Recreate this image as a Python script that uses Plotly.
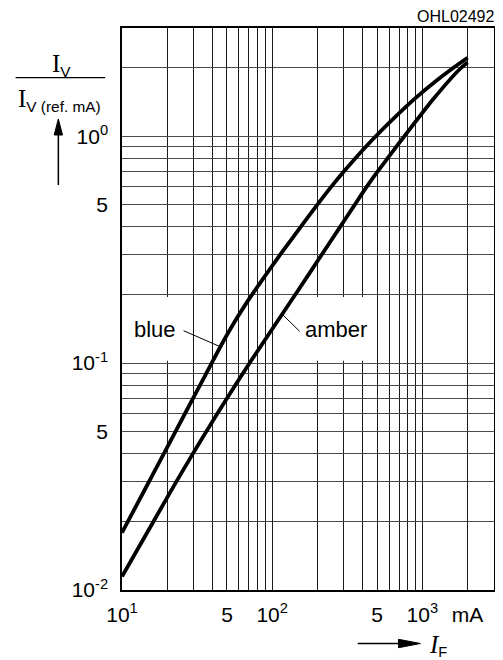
import plotly.graph_objects as go
import math

# ---- data ----
blue_if = [10, 15, 19, 22.6, 29.7, 36, 47, 56, 68, 74, 99, 114, 158, 203, 250, 300, 367, 428, 495, 627, 895, 1250, 1603, 2000]
blue_iv = [0.0179, 0.0297, 0.0399, 0.0496, 0.0699, 0.0888, 0.1239, 0.1515, 0.1857, 0.202, 0.266, 0.303, 0.406, 0.506, 0.604, 0.699, 0.815, 0.911, 1.008, 1.178, 1.469, 1.766, 2.0, 2.218]

amber_if = [10, 16.1, 22.7, 29.4, 36.4, 49.3, 72, 146, 213, 285, 349, 421, 504, 589, 668, 750, 1183, 1778, 2000]
amber_iv = [0.01146, 0.0199, 0.0296, 0.0395, 0.0499, 0.0690, 0.1019, 0.2052, 0.2994, 0.4006, 0.4906, 0.5918, 0.6995, 0.8024, 0.8964, 0.9902, 1.4586, 1.979, 2.112]

x_tickvals = [10, 50, 100, 500, 1000, 2000]
x_ticktext = ["10<sup>1</sup>", "5", "10<sup>2</sup>", "5", "10<sup>3</sup>", "mA"]
y_tickvals = [0.01, 0.05, 0.1, 0.5, 1]
y_ticktext = ["10<sup>-2</sup>", "5", "10<sup>-1</sup>", "5", "10<sup>0</sup>"]

# page body has an 8px default margin; compensate so the plot lands where intended
OFF = 8
W, H = 503 - OFF, 660 - OFF
L, R, T, B = 122 - OFF, 7, 28 - OFF, 70
PW, PH = W - L - R, H - T - B


def px(x):
    """page pixel x -> paper coordinate"""
    return (x - OFF - L) / PW


def py(y):
    """page pixel y -> paper coordinate"""
    return (H - B - (y - OFF)) / PH


x_grid = [m * 10 ** d for d in (1, 2, 3) for m in range(1, 10) if m * 10 ** d <= 3000]
y_grid = [m * 10 ** d for d in (-2, -1, 0) for m in range(1, 10) if m * 10 ** d <= 3]

SANS = "Liberation Sans, Arial, sans-serif"
SERIF = "Liberation Serif, Times New Roman, serif"
XGRID = "#1a1a1a"
YGRID = "#4a4a4a"

fig = go.Figure()
for xs, ys in ((blue_if, blue_iv), (amber_if, amber_iv)):
    fig.add_trace(go.Scatter(x=xs, y=ys, mode="lines",
                             line=dict(color="black", width=3.8, shape="spline", smoothing=0.6),
                             showlegend=False, hoverinfo="skip"))

axis_common = dict(
    showline=True, linecolor="black", linewidth=1.5, mirror=True,
    showgrid=True, gridwidth=1,
    ticks="", zeroline=False,
    tickfont=dict(family=SANS, size=21, color="black"),
)
fig.update_xaxes(type="log", range=[1, math.log10(3000)],
                 tickmode="array", tickvals=x_tickvals, ticktext=x_ticktext, gridcolor=XGRID,
                 minor=dict(tickvals=x_grid, showgrid=True, gridcolor=XGRID, gridwidth=1, ticks=""),
                 ticklabelstandoff=5, **axis_common)
fig.update_yaxes(type="log", range=[-2, math.log10(3)],
                 tickmode="array", tickvals=y_tickvals, ticktext=y_ticktext, gridcolor=YGRID,
                 minor=dict(tickvals=y_grid, showgrid=True, gridcolor=YGRID, gridwidth=1.2, ticks=""),
                 ticklabelstandoff=8, **axis_common)

shapes = []
# white label boxes hiding grid lines (between grid and traces)
shapes.append(dict(type="rect", xref="x", yref="y", x0=10, x1=29.4, y0=0.1025, y1=0.1955,
                   fillcolor="white", line=dict(width=0), layer="between"))
shapes.append(dict(type="rect", xref="x", yref="y", x0=102, x1=490, y0=0.1025, y1=0.1955,
                   fillcolor="white", line=dict(width=0), layer="between"))
# leader lines
shapes.append(dict(type="line", xref="x", yref="y", x0=25.7, y0=0.139, x1=44.6, y1=0.1185,
                   line=dict(color="black", width=1)))
shapes.append(dict(type="line", xref="x", yref="y", x0=152.5, y0=0.138, x1=118, y1=0.163,
                   line=dict(color="black", width=1)))
# fraction bar of y title
shapes.append(dict(type="line", xref="paper", yref="paper", x0=px(15), x1=px(105), y0=py(77.7), y1=py(77.7),
                   line=dict(color="black", width=1.2)))
# up arrow (y)
shapes.append(dict(type="line", xref="paper", yref="paper", x0=px(58), x1=px(58), y0=py(185), y1=py(132),
                   line=dict(color="black", width=1.5)))
shapes.append(dict(type="path", xref="paper", yref="paper",
                   path=f"M {px(58)},{py(119)} L {px(53.8)},{py(135)} L {px(62.2)},{py(135)} Z",
                   fillcolor="black", line=dict(color="black", width=1)))
# right arrow (x)
shapes.append(dict(type="line", xref="paper", yref="paper", x0=px(359), x1=px(406), y0=py(643.5), y1=py(643.5),
                   line=dict(color="black", width=1.5)))
shapes.append(dict(type="path", xref="paper", yref="paper",
                   path=f"M {px(422)},{py(643.5)} L {px(400)},{py(639.3)} L {px(400)},{py(647.7)} Z",
                   fillcolor="black", line=dict(color="black", width=1)))
fig.update_layout(shapes=shapes)

annotations = [
    dict(text="blue", xref="x", yref="y", x=math.log10(16.5), y=math.log10(0.140), showarrow=False,
         font=dict(family=SANS, size=22, color="black")),
    dict(text="amber", xref="x", yref="y", x=math.log10(267), y=math.log10(0.140), showarrow=False,
         font=dict(family=SANS, size=22, color="black")),
    dict(text="OHL02492", xref="paper", yref="paper", x=px(498), y=py(16.5), xanchor="right", yanchor="middle",
         showarrow=False, font=dict(family=SANS, size=16, color="black")),
    dict(text=f'<span style="font-family:{SERIF};font-size:25px">I</span><sub>V</sub>',
         xref="paper", yref="paper", x=px(50), y=py(65), xanchor="left", yanchor="middle",
         showarrow=False, font=dict(family=SANS, size=22, color="black")),
    dict(text=f'<span style="font-family:{SERIF};font-size:25px">I</span><sub>V (ref. mA)</sub>',
         xref="paper", yref="paper", x=px(15), y=py(100), xanchor="left", yanchor="middle",
         showarrow=False, font=dict(family=SANS, size=22, color="black")),
    dict(text=f'<span style="font-family:{SERIF};font-style:italic;font-size:25px">I</span><sub>F</sub>',
         xref="paper", yref="paper", x=px(429), y=py(645), xanchor="left", yanchor="middle",
         showarrow=False, font=dict(family=SANS, size=21, color="black")),
]
fig.update_layout(annotations=annotations)

fig.update_layout(
    width=W, height=H,
    margin=dict(l=L, r=R, t=T, b=B, pad=0),
    paper_bgcolor="white", plot_bgcolor="white",
    showlegend=False,
)

fig.write_html("out.html")
